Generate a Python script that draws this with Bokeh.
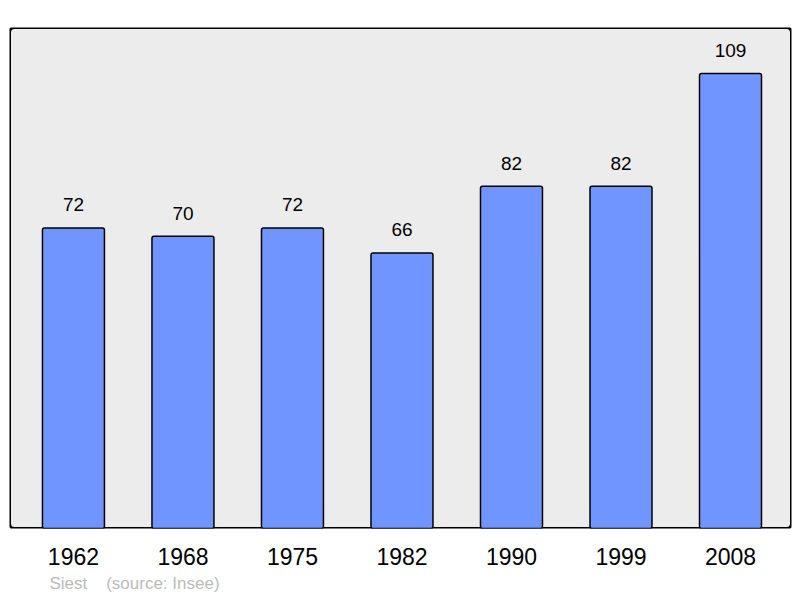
from bokeh.plotting import figure
from bokeh.models import BoxAnnotation, FixedTicker, Title, Range1d, ColumnDataSource
from bokeh.core.properties import value
from bokeh.embed import file_html
from bokeh.resources import INLINE

years = ["1962", "1968", "1975", "1982", "1990", "1999", "2008"]
population = [72, 70, 72, 66, 82, 82, 109]
footer = "Siest\u00a0\u00a0\u00a0\u00a0(source: Insee)"

FONT = "Liberation Sans"
xs = list(range(len(years)))
src = ColumnDataSource(dict(x=xs, top=population, label=[str(v) for v in population]))

p = figure(frame_width=782, frame_height=501, output_backend="svg", toolbar_location=None,
           x_range=Range1d(-0.584, 6.557), y_range=Range1d(0, 120),
           min_border_left=9, min_border_right=1, min_border_top=27, min_border_bottom=4)
p.background_fill_color = "white"
p.border_fill_color = "white"
p.outline_line_color = None
p.grid.visible = False
p.yaxis.visible = False

frame = BoxAnnotation(fill_color="#ececec", fill_alpha=1, line_color="black",
                      line_alpha=1, line_width=3, border_radius=5, level="underlay")
p.add_layout(frame)

p.vbar(x="x", top="top", width=0.566, source=src, fill_color="#7095ff",
       line_color="black", line_width=1.5, border_radius=2)
p.text(x="x", y="top", text="label", source=src, text_align="center",
       text_baseline="alphabetic", y_offset=-23, text_font=value(FONT),
       text_font_size="19px", text_color="black")

ax = p.xaxis[0]
ax.ticker = FixedTicker(ticks=xs)
ax.major_label_overrides = {i: y for i, y in enumerate(years)}
ax.axis_line_color = None
ax.major_tick_line_color = None
ax.minor_tick_line_color = None
ax.major_tick_out = 0
ax.major_tick_in = 0
ax.major_label_standoff = 19
ax.major_label_text_font = FONT
ax.major_label_text_font_size = "23px"
ax.major_label_text_color = "black"

t = Title(text=footer, align="left", offset=40, text_font=FONT, text_font_size="17px",
          text_color="#bbbbbb", text_font_style="normal", standoff=9)
p.add_layout(t, "below")

open("out.html", "w").write(file_html(p, INLINE))
